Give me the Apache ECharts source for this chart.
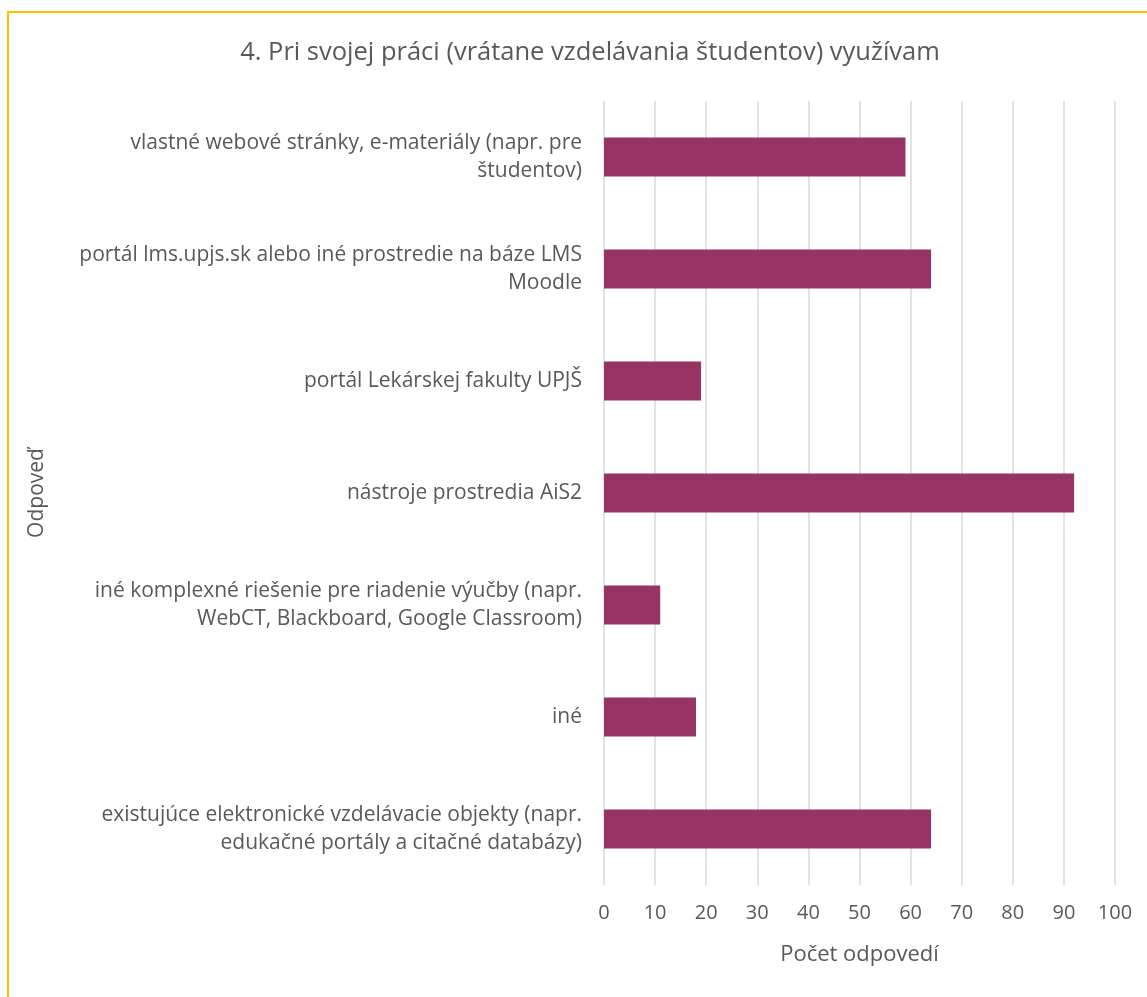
<!DOCTYPE html>
<html>
<head>
<meta charset="utf-8">
<script src="https://cdn.jsdelivr.net/npm/echarts@6/dist/echarts.min.js"></script>
<style>
  html, body { margin: 0; padding: 0; background: #fff; }
  #chart { width: 1147px; height: 997px; }
</style>
</head>
<body>
<div id="chart"></div>
<script>
// answers, top to bottom as shown
const categories = [
    'vlastné webové stránky, e-materiály (napr. pre\nštudentov)',
    'portál lms.upjs.sk alebo iné prostredie na báze LMS\nMoodle',
    'portál Lekárskej fakulty UPJŠ',
    'nástroje prostredia AiS2',
    'iné komplexné riešenie pre riadenie výučby (napr.\nWebCT, Blackboard, Google Classroom)',
    'iné',
    'existujúce elektronické vzdelávacie objekty (napr.\nedukačné portály a citačné databázy)'
]
const counts = [59, 64, 19, 92, 11, 18, 64]

const chart = echarts.init(document.getElementById('chart'))
const font = '"Open Sans", "Noto Sans", sans-serif'

const option = {
    animation: false,
    title: {
        text: '4. Pri svojej práci (vrátane vzdelávania študentov) využívam',
        left: 585,
        top: 35,
        textAlign: 'center',
        textStyle: {
            color: '#595959',
            fontFamily: font,
            fontSize: 25.5,
            fontWeight: 'normal'
        }
    },
    graphic: [{
        type: 'rect',
        shape: { x: 8, y: 12, width: 1160, height: 1010 },
        style: { fill: 'none', stroke: '#FFC000', lineWidth: 2 },
        silent: true
    }],
    grid: {
        left: 604,
        right: 32,
        top: 101,
        bottom: 112
    },
    xAxis: {
        type: 'value',
        min: 0,
        max: 100,
        interval: 10,
        name: 'Počet odpovedí',
        nameLocation: 'middle',
        nameGap: 59,
        nameTextStyle: { color: '#595959', fontFamily: font, fontSize: 22 },
        axisLine: { show: false },
        axisTick: { show: false },
        axisLabel: { color: '#595959', fontFamily: font, fontSize: 20, margin: 18 },
        splitLine: { lineStyle: { color: '#d9d9d9', width: 1.5 } }
    },
    yAxis: {
        type: 'category',
        inverse: true,
        data: categories,
        name: 'Odpoveď',
        nameLocation: 'middle',
        nameRotate: 90,
        nameGap: 556,
        nameTextStyle: { color: '#595959', fontFamily: font, fontSize: 21 },
        axisLine: { show: false },
        axisTick: { show: false },
        axisLabel: {
            color: '#595959',
            fontFamily: font,
            fontSize: 21,
            lineHeight: 28,
            margin: 22,
            align: 'right'
        },
        splitLine: { show: false }
    },
    series: [{
        type: 'bar',
        data: counts,
        barCategoryGap: '65%',
        itemStyle: { color: '#983365' }
    }]
}
chart.setOption(option, true)
</script>
</body>
</html>
